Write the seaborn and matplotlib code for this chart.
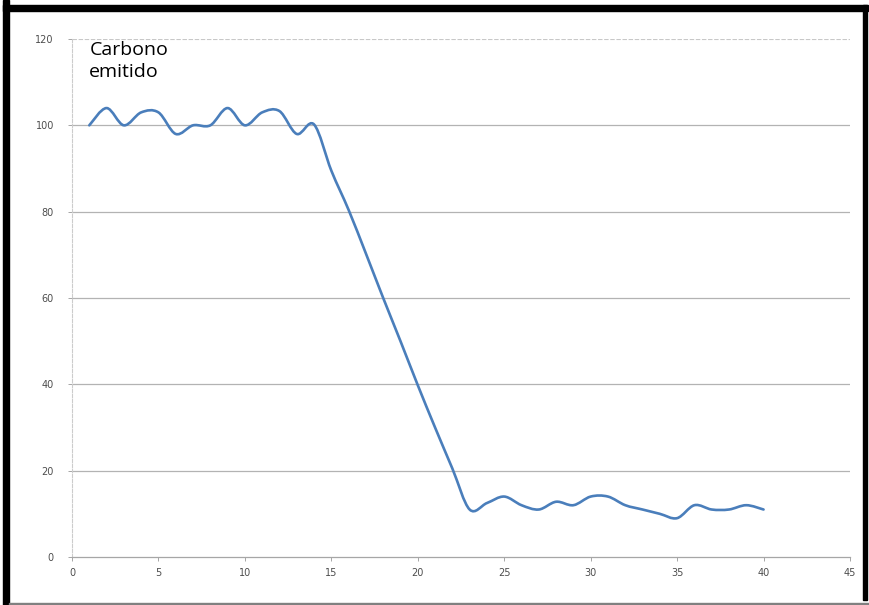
import numpy as np
import matplotlib
matplotlib.use("Agg")
import matplotlib.pyplot as plt
from matplotlib.path import Path
from matplotlib.patches import PathPatch, Rectangle
import seaborn as sns

# ---- data ----
years = list(range(1, 41))
carbon = [100, 104, 100, 103, 103, 98, 100, 100, 104, 100,
          103, 103.3, 98, 100.2, 89.5, 80.4, 70.3, 60, 50, 39.8,
          30, 20.5, 11, 12.5, 14, 12, 11, 12.8, 12, 14,
          14, 12, 11, 10, 9, 12, 11, 11, 12, 11]
title_text = "Carbono\nemitido"
xticks = [0, 5, 10, 15, 20, 25, 30, 35, 40, 45]
yticks = [0, 20, 40, 60, 80, 100, 120]

sns.set_theme(style="white")
plt.rcParams['font.family'] = ['DejaVu Sans']

fig = plt.figure(figsize=(8.7, 6.05), dpi=100)
ax = fig.add_axes([72/870, 48/605, (850-72)/870, (557-39)/605])

# smoothed line (Catmull-Rom -> cubic Bezier) in data coordinates
P = np.column_stack([years, carbon]).astype(float)
n = len(P)
verts = [tuple(P[0])]
codes = [Path.MOVETO]
for i in range(n - 1):
    p0 = P[i - 1] if i > 0 else P[i]
    p1 = P[i]
    p2 = P[i + 1]
    p3 = P[i + 2] if i + 2 < n else P[i + 1]
    c1 = p1 + (p2 - p0) / 6.0
    c2 = p2 - (p3 - p1) / 6.0
    verts += [tuple(c1), tuple(c2), tuple(p2)]
    codes += [Path.CURVE4] * 3
ax.add_patch(PathPatch(Path(verts, codes), facecolor='none',
                       edgecolor='#4a7ebb', linewidth=1.9, zorder=3,
                       capstyle='round', joinstyle='round'))

ax.set_xlim(0, 45)
ax.set_ylim(0, 120)
ax.set_xticks(xticks)
ax.set_yticks(yticks)
ax.set_xticklabels([str(t) for t in xticks])
ax.set_yticklabels([str(t) for t in yticks])

# gridlines
for yv in yticks[1:-1]:
    ax.axhline(yv, color='#b3b3b3', linewidth=0.9, zorder=1)
ax.axhline(120, color='#c8c8c8', linewidth=0.8, linestyle=(0, (4, 1.5)), zorder=1)

for s in ['top', 'right']:
    ax.spines[s].set_visible(False)
ax.spines['left'].set_color('#cccccc')
ax.spines['left'].set_linewidth(0.8)
ax.spines['left'].set_linestyle((0, (3, 1.5)))
ax.spines['bottom'].set_color('#a6a6a6')
ax.spines['bottom'].set_linewidth(0.9)

ax.tick_params(axis='both', which='major', length=3, width=0.7, color='#a6a6a6',
               labelsize=7, labelcolor='#4d4d4d', direction='out')
ax.tick_params(axis='x', pad=5, bottom=True)
ax.tick_params(axis='y', pad=10, left=True)

ax.text(1.0, 119.5, title_text, fontsize=14, family=['Open Sans', 'DejaVu Sans'],
        color='black', va='top', ha='left', linespacing=1.25)

# frame borders
fig.patches.append(Rectangle((3/870, 0), 6/870, 1, transform=fig.transFigure,
                             color='black', zorder=10))
fig.patches.append(Rectangle((3/870, 1 - 11/605), 865/870, 6/605,
                             transform=fig.transFigure, color='black', zorder=10))
fig.patches.append(Rectangle((863/870, 5/605), 4/870, 595/605,
                             transform=fig.transFigure, color='black', zorder=10))
fig.patches.append(Rectangle((9/870, 0), 861/870, 2/605,
                             transform=fig.transFigure, color='#808080', zorder=10))

fig.savefig("out.png", dpi=100)
